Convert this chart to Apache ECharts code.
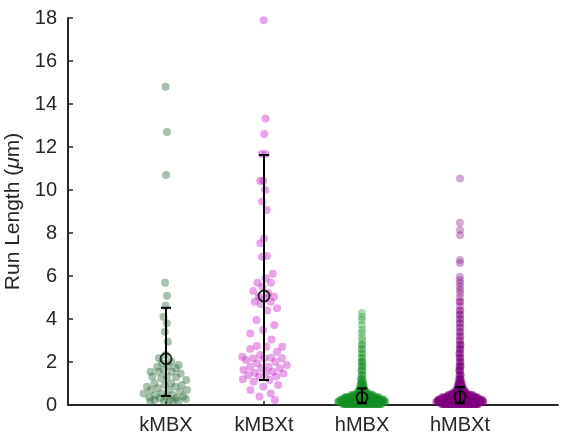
<!DOCTYPE html>
<html><head><meta charset="utf-8">
<script src="https://cdn.jsdelivr.net/npm/echarts@6/dist/echarts.min.js"></script>
<style>html,body{margin:0;padding:0;background:#fff}#c{width:561px;height:435px}</style>
</head><body><div id="c"></div>
<script>
const categories = ['kMBX', 'kMBXt', 'hMBX', 'hMBXt'];
const yTicks = [0, 2, 4, 6, 8, 10, 12, 14, 16, 18];

const kMBX = [14.8, 12.7, 10.7, 5.69, 5.08, 4.62, 4.11, 3.80, 3.41, 2.94, 2.33, 2.17, 2.01, 1.94, 1.86, 1.81, 1.78, 1.71,
  1.63, 1.55, 1.55, 1.55, 1.47, 1.32, 1.32, 1.29, 1.24, 1.16, 1.01, 1.01, 0.93, 0.93, 0.85, 0.85, 0.78, 0.70, 0.70,
  0.70, 0.62, 0.54, 0.54, 0.47, 0.45, 0.39, 0.39, 0.35, 0.31, 0.31, 0.28, 0.23, 0.23, 0.20, 0.16, 0.16, 0.16];

const kMBXt = [17.9, 13.33, 12.6, 11.67, 11.67, 10.42, 10.42, 10.0, 9.46, 9.07, 7.75, 7.52, 6.93, 6.9, 6.1, 5.9, 5.69,
  5.69, 5.5, 5.3, 5.2, 5.04, 5.04, 4.95, 4.8, 4.8, 4.7, 4.5, 4.4, 3.95, 3.72, 3.49, 3.33, 3.05, 2.74, 2.71, 2.71, 2.6,
  2.48, 2.33, 2.25, 2.2, 2.17, 2.17, 2.17, 2.09, 2.0, 1.94, 1.86, 1.78, 1.78, 1.71, 1.71, 1.63, 1.55, 1.5, 1.47, 1.47,
  1.4, 1.32, 1.32, 1.2, 1.16, 1.08, 0.93, 0.85, 0.7, 0.54, 0.39, 0.23];

const hMBXLevels = [0.05, 0.15, 0.25, 0.35, 0.45, 0.55, 0.65, 0.75, 0.85, 0.95, 1.05, 1.2, 1.4, 1.6, 1.8, 2.0, 2.2, 2.4,
  2.6, 2.8, 3.0, 3.15, 3.35, 3.5, 3.72, 3.95, 4.1, 4.28];
const hMBXCounts = [60, 60, 55, 45, 28, 14, 9, 7, 5, 4, 4, 4, 3, 3, 3, 3, 2, 2, 2, 2, 1, 1, 1, 1, 1, 1, 1, 1];

const hMBXtLevels = [0.05, 0.15, 0.25, 0.35, 0.45, 0.55, 0.65, 0.75, 0.85, 0.95, 1.05, 1.2, 1.4, 1.6, 1.8, 2.0, 2.2, 2.4,
  2.6, 2.8, 3.0, 3.2, 3.4, 3.6, 3.8, 4.0, 4.2, 4.4, 4.6, 4.8, 5.0, 5.2, 5.35, 5.5, 5.66, 5.8, 5.97, 6.6, 6.74, 7.9,
  8.14, 8.48, 10.54];
const hMBXtCounts = [70, 70, 60, 50, 32, 18, 12, 9, 7, 6, 5, 5, 4, 4, 4, 3, 3, 3, 3, 3, 2, 2, 2, 2, 2, 2, 2, 2, 1, 2,
  1, 1, 1, 1, 1, 1, 1, 1, 1, 1, 1, 1, 1];

const centers = [2.15, 5.07, 0.35, 0.38];
const lows = [0.42, 1.16, 0.08, 0.08];
const highs = [4.52, 11.63, 0.77, 0.83];

const colors = ['rgba(34,100,50,0.5)', 'rgba(195,0,195,0.45)', 'rgba(20,145,35,0.42)', 'rgba(128,0,128,0.42)'];

function expand(levels, counts) {
  const out = [];
  levels.forEach((v, i) => { for (let k = 0; k < counts[i]; k++) out.push(v); });
  return out;
}

// density-scaled swarm layout (deterministic)
function swarm(vals, pos, halfW) {
  const n = vals.length;
  const mean = vals.reduce((a, b) => a + b, 0) / n;
  const sd = Math.sqrt(vals.reduce((a, b) => a + (b - mean) * (b - mean), 0) / (n - 1));
  const s = vals.slice().sort((a, b) => a - b);
  const iqr = s[Math.floor(0.75 * (n - 1))] - s[Math.floor(0.25 * (n - 1))];
  const h = 0.9 * Math.min(sd, iqr / 1.34 || sd) * Math.pow(n, -0.2);
  const dens = v => { let t = 0; for (const x of vals) { const z = (v - x) / h; t += Math.exp(-0.5 * z * z); } return t; };
  const d = vals.map(dens);
  const maxD = Math.max(...d);
  return vals.map((v, i) => {
    const u = 2 * ((i * 0.6180339887 + 0.31) % 1) - 1;
    return [pos + halfW * d[i] / maxD * u, v];
  });
}

const groups = [kMBX, kMBXt, expand(hMBXLevels, hMBXCounts), expand(hMBXtLevels, hMBXtCounts)];
const textColor = '#262626';
const font = 'Liberation Sans';

const series = groups.map((g, i) => ({
  type: 'scatter',
  data: swarm(g, i + 1, 0.245),
  symbolSize: 8,
  itemStyle: { color: colors[i] },
  silent: true,
  z: 2
}));

series.push({
  type: 'custom',
  z: 5,
  silent: true,
  data: categories.map((c, i) => [i + 1, lows[i], highs[i]]),
  renderItem: function (params, api) {
    const x = api.value(0);
    const lo = api.coord([x, api.value(1)]);
    const hi = api.coord([x, api.value(2)]);
    const cw = 5;
    const st = { stroke: '#000', lineWidth: 2 };
    return {
      type: 'group',
      children: [
        { type: 'line', shape: { x1: lo[0], y1: lo[1], x2: hi[0], y2: hi[1] }, style: st },
        { type: 'line', shape: { x1: lo[0] - cw, y1: lo[1], x2: lo[0] + cw, y2: lo[1] }, style: st },
        { type: 'line', shape: { x1: hi[0] - cw, y1: hi[1], x2: hi[0] + cw, y2: hi[1] }, style: st }
      ]
    };
  }
});

series.push({
  type: 'scatter',
  z: 6,
  silent: true,
  symbol: 'circle',
  symbolSize: 11,
  itemStyle: { color: 'rgba(0,0,0,0)', borderColor: '#000', borderWidth: 2 },
  data: centers.map((c, i) => [i + 1, c])
});

const chart = echarts.init(document.getElementById('c'));
chart.setOption({
  animation: false,
  backgroundColor: '#fff',
  grid: { left: 68, right: 3, top: 18, bottom: 30, containLabel: false, outerBoundsMode: 'none' },
  xAxis: {
    type: 'value', min: 0, max: 5, interval: 1,
    splitLine: { show: false },
    axisLine: { show: true, onZero: false, lineStyle: { color: textColor, width: 2 } },
    axisTick: { show: true, inside: true, length: 4, customValues: [1, 2, 3, 4], lineStyle: { color: textColor, width: 1.5 } },
    axisLabel: {
      customValues: [1, 2, 3, 4],
      formatter: v => categories[v - 1] || '',
      color: textColor, fontSize: 20, fontFamily: font, margin: 10
    }
  },
  yAxis: {
    type: 'value', min: 0, max: 18, interval: 2,
    splitLine: { show: false },
    axisLine: { show: true, lineStyle: { color: textColor, width: 2 } },
    axisTick: { show: true, inside: true, length: 5, lineStyle: { color: textColor, width: 1.5 } },
    axisLabel: {
      customValues: yTicks,
      color: textColor, fontSize: 20, fontFamily: font, margin: 11
    },
    name: 'Run Length ({i|μ}m)',
    nameLocation: 'middle',
    nameGap: 41,
    nameTextStyle: {
      color: textColor, fontSize: 21, fontFamily: font,
      rich: { i: { fontStyle: 'italic', color: textColor, fontSize: 21, fontFamily: font } }
    }
  },
  series: series
});
</script>
</body></html>
